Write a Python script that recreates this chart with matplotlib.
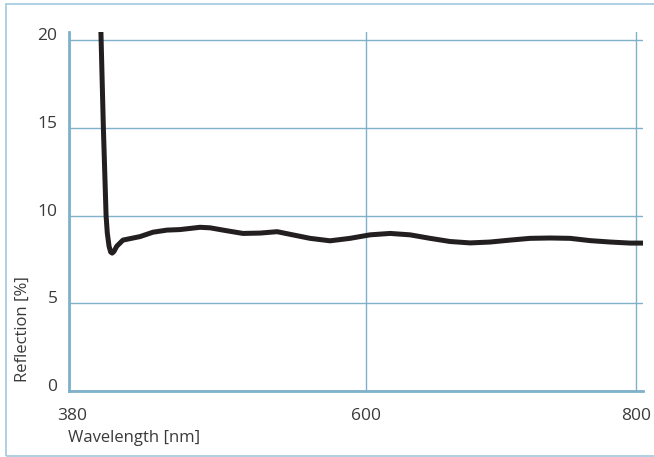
import matplotlib
matplotlib.use('Agg')
import matplotlib.pyplot as plt
import matplotlib.transforms as mtransforms
from matplotlib.patches import Rectangle

# reflection curve
wavelength = [403.8, 404.0, 405.8, 407.8, 408.7, 410.0, 411.2, 412.3, 413.6, 415.7, 420.3, 432.9,
              442.5, 452.9, 462.5, 477.3, 484.7, 497.3, 509.1, 521.7, 534.3, 543.9,
              558.7, 573.5, 588.3, 603.1, 617.9, 632.7, 647.5, 662.3, 677.1, 691.9,
              706.7, 721.5, 736.3, 751.1, 765.9, 780.7, 795.5, 805.2]
reflection = [21.0, 20.4, 15.0, 10.0, 9.0, 8.25, 7.92, 7.86, 7.95, 8.25, 8.6, 8.8,
              9.05, 9.17, 9.2, 9.33, 9.3, 9.13, 8.98, 9.0, 9.08, 8.93,
              8.7, 8.56, 8.7, 8.9, 8.98, 8.9, 8.7, 8.52, 8.44, 8.49,
              8.6, 8.7, 8.72, 8.7, 8.57, 8.49, 8.43, 8.43]

x_ticks = [380, 600, 800]
y_ticks = [0, 5, 10, 15, 20]

grid_col = '#7fb1cb'
text_col = '#3a3a3a'
plt.rcParams['font.family'] = ['Open Sans', 'DejaVu Sans']

W, H = 654, 457
fig = plt.figure(figsize=(W / 100, H / 100), dpi=100)
ax = fig.add_axes([68.5 / W, 1 - 391 / H, (643 - 68.5) / W, (391 - 32) / H])

# outer frame
fig.patches.append(Rectangle((6 / W, 1.5 / H), 1.2, 1 - 5 / H, transform=fig.transFigure,
                             fill=False, edgecolor='#a8cde0', linewidth=1.3))

ax.plot(wavelength, reflection, color='#231f20', linewidth=3.6,
        solid_joinstyle='round', solid_capstyle='butt', zorder=3)

ax.set_xlim(380, 805)
ax.set_ylim(0, 20.46)
ax.set_xticks(x_ticks)
ax.set_yticks(y_ticks)
ax.set_xticklabels([str(v) for v in x_ticks])
ax.set_yticklabels([str(v) for v in y_ticks])

ax.grid(True, color=grid_col, linewidth=1.0)
ax.set_axisbelow(True)
for s in ['top', 'right']:
    ax.spines[s].set_visible(False)
for s in ['left', 'bottom']:
    ax.spines[s].set_color(grid_col)
    ax.spines[s].set_linewidth(2.0)

ax.tick_params(axis='both', length=0, labelsize=12.5, labelcolor=text_col)
ax.tick_params(axis='x', pad=12)
ax.tick_params(axis='y', pad=8)
for lab in ax.get_yticklabels():
    lab.set_verticalalignment('baseline')
xl = ax.get_xticklabels()
xl[0].set_transform(xl[0].get_transform() + mtransforms.ScaledTranslation(4 / 100, 0, fig.dpi_scale_trans))

fig.text(68 / W, 1 - 438 / H, 'Wavelength [nm]', ha='left', va='center',
         fontsize=12, color=text_col)
fig.text(23 / W, 1 - 382 / H, 'Reflection [%]', ha='center', va='bottom',
         rotation=90, fontsize=12, color=text_col)

fig.savefig('out.png', dpi=100)
